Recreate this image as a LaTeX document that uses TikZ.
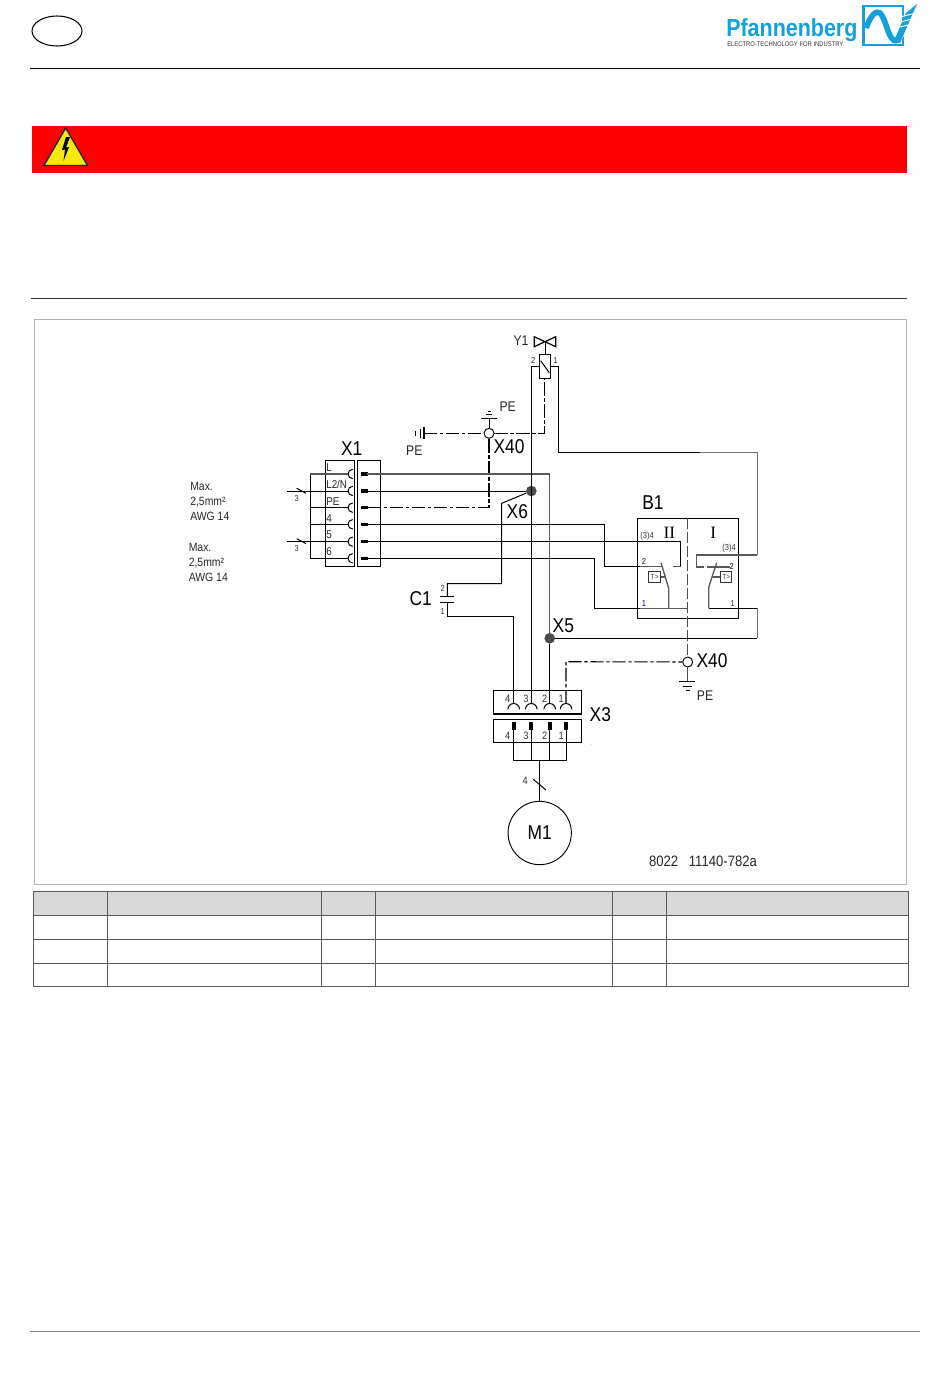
\documentclass[tikz,border=0pt]{standalone}
\usepackage{fontspec}
\setmainfont[FakeStretch=0.87]{Liberation Sans}
\newfontfamily\ziffer{Liberation Serif}
\usetikzlibrary{shapes.geometric}
\definecolor{logoblue}{RGB}{20,160,220}
\definecolor{headgrey}{RGB}{217,217,217}
\tikzset{
	x=0.75pt,y=-0.75pt,
	wire/.style={black,line width=0.75pt},
	greywire/.style={black!65,line width=1pt},
	dashdot/.style={black,line width=0.8pt,dash pattern=on 10pt off 2pt on 2.5pt off 2pt},
	sepline/.style={black!70,line width=1pt,dash pattern=on 8pt off 2.5pt},
	box/.style={draw,black,line width=0.8pt,inner sep=0},
	pinbar/.style={black,line width=2.5pt},
	opendot/.style={circle,draw,fill=white,line width=0.7pt,minimum size=7.5pt,inner sep=0},
	soliddot/.style={circle,fill=black!70,minimum size=8pt,inner sep=0},
	biglabel/.style={inner sep=0,font=\fontsize{15}{15}\selectfont},
	midlabel/.style={inner sep=0,font=\fontsize{10.5}{10.5}\selectfont,black!85},
	termlabel/.style={inner sep=0,anchor=west,font=\fontsize{8.5}{8.5}\selectfont,black!85},
	pinlabel/.style={inner sep=0,font=\fontsize{6.5}{6.5}\selectfont,black!80},
	notelabel/.style={inner sep=0,anchor=west,align=left,font=\fontsize{9}{11.25}\selectfont,black!85},
}
\begin{document}
\begin{tikzpicture}
\useasboundingbox (0,0) rectangle (950,1378);

\node[draw,ellipse,line width=0.8pt,minimum width=37.5pt,minimum height=22.5pt,inner sep=0] (lang) at (57,31) {};
\draw[line width=0.75pt] (30,68.5) -- (920,68.5);
\node[inner sep=0,anchor=west,logoblue,font=\fontsize{18.5}{18.5}\selectfont\bfseries] (logoname) at (726,30) {Pfannenberg};
\node[inner sep=0,anchor=west,black!80,font=\fontsize{5.05}{5.05}\selectfont] (logotag) at (727,44.5) {ELECTRO-TECHNOLOGY FOR INDUSTRY};
\draw[logoblue,line width=2.2pt] (863.5,6) rectangle (903,45);
\draw[logoblue,line width=4.2pt] (866,28) .. controls (871,15) and (876,10) .. (880,13) .. controls (887,20) and (888,42) .. (897,41);
\draw[white,line width=6pt] (898,38) -- (917,5);
\fill[logoblue] (893,43) -- (900,43) -- (917,4) -- (906,13) -- cycle;
\foreach \y in {16,21,26}
	\draw[white,line width=0.7pt] (900,\y+1) -- (916,\y-3);

\fill[red] (32,126) rectangle (907,173);
\draw[black!85,fill=yellow!95!black,line width=1pt,line join=miter] (65.7,128) -- (87.5,165.5) -- (44,165.5) -- cycle;
\fill[black] (66,137) -- (62,150) -- (65,149.5) -- (63.5,161) -- (69,147) -- (66,147.5) -- (70,137) -- cycle;
\draw[black!80,line width=0.8pt] (31,298.5) -- (907,298.5);

\draw[black!30,line width=0.7pt] (34.5,319) rectangle (906,884);

\node[box,minimum width=22pt,minimum height=79.5pt] (xoneL) at (339.7,513.3) {};
\node[box,minimum width=17pt,minimum height=79.5pt] (xoneR) at (369,513.3) {};
\node[biglabel] (xonetxt) at (351.7,448.3) {X1};
\foreach \n/\y in {a/474,b/491,c/507.7,d/524.3,e/541.7,f/558.3} {
	\coordinate (in\n) at (310,\y);
	\coordinate (sock\n) at (348,\y);
	\coordinate (pin\n) at (361,\y);
	\draw[wire] (352.7,\y-4.7) arc[start angle=90,end angle=270,radius=3.5pt];
	\draw[pinbar] (pin\n) -- ++(6.5,0);
}
\node[termlabel] (tl) at (326,468) {L};
\node[termlabel] (tb) at (326,484) {L2/N};
\node[termlabel] (tc) at (326,501.7) {PE};
\node[termlabel] (td) at (326,518.3) {4};
\node[termlabel] (te) at (326,535) {5};
\node[termlabel] (tf) at (326,552) {6};

\draw[wire] (ina) -- (inf);
\foreach \n in {c,d,f}
	\draw[wire] (in\n) -- (sock\n);
\draw[greywire] (ina) -- (socka);
\coordinate (feedb) at (286.7,491);
\coordinate (feede) at (286.7,541.7);
\draw[wire] (feedb) -- (sockb);
\draw[wire] (feede) -- (socke);
\draw[wire] (296.7,488.3) -- (306,493.3);
\draw[wire] (296.7,538.7) -- (306,543.7);
\node[pinlabel] (threeb) at (296.7,498.3) {3};
\node[pinlabel] (threee) at (296.7,548.3) {3};
\node[notelabel] (maxone) at (190,501) {Max.\\2,5mm²\\AWG 14};
\node[notelabel] (maxtwo) at (188.5,562.7) {Max.\\2,5mm²\\AWG 14};

\draw[wire,line width=0.9pt] (534.3,336.7) -- (555.7,346.7) -- (555.7,336.7) -- (534.3,346.7) -- cycle;
\draw[wire] (545,341.7) -- (545,354.3);
\node[box,minimum width=8.5pt,minimum height=18pt] (yone) at (544.7,366.3) {};
\draw[wire] (540.7,360.7) -- (549.3,372.7);
\node[midlabel] (yonetxt) at (521,341) {Y1};
\node[pinlabel] (ytwo) at (533.3,360.7) {2};
\node[pinlabel] (ypone) at (555.7,360.7) {1};

\node[opendot] (xforty) at (489,433.3) {};
\node[opendot] (xfortyb) at (687.7,662) {};
\node[soliddot] (xsix) at (531.3,491) {};
\node[soliddot] (xfive) at (549.7,638.3) {};
\node[biglabel] (xfortytxt) at (509,446.7) {X40};
\node[biglabel] (xsixtxt) at (517.3,511.7) {X6};
\node[biglabel] (xfivetxt) at (563.3,626) {X5};
\node[biglabel] (xfortybtxt) at (712,661) {X40};
\node[midlabel] (petop) at (507.7,406.7) {PE};
\node[midlabel] (peleft) at (414.3,451) {PE};
\node[midlabel] (pelow) at (705,695.7) {PE};

\coordinate (gndtop) at (489,418.3);
\coordinate (gndleft) at (424,433.3);
\coordinate (gndlow) at (687.7,681.7);
\draw[wire] (xforty) -- (gndtop);
\draw[wire,line width=1pt] (481,418.3) -- (497,418.3);
\draw[wire] (486,414) -- (492,414);
\draw[wire] (487.5,411) -- (490.5,411);
\draw[wire,line width=1pt] (424,427) -- (424,439);
\draw[wire] (420,428.5) -- (420,438);
\draw[wire] (415.7,431) -- (415.7,435.5);
\draw[wire,black!70] (xfortyb) -- (gndlow);
\draw[wire,line width=1pt] (679,681.7) -- (695,681.7);
\draw[wire] (683,686.5) -- (692,686.5);
\draw[wire] (686,690.5) -- (689.5,690.5);

\draw[dashdot] (gndleft) -- (xforty);
\draw[dashdot] (xforty) -| (yone);
\draw[dashdot] (pinc) ++(7,0) -- (489,507.7) -- (xforty);

\node[box,minimum width=75.7pt,minimum height=74.8pt] (bone) at (687.7,568.2) {};
\node[biglabel] (bonetxt) at (653,503) {B1};
\node[inner sep=0,font=\fontsize{13}{13}\selectfont\ziffer] (twotxt) at (669.3,533) {II};
\node[inner sep=0,font=\fontsize{13}{13}\selectfont\ziffer] (onetxt) at (713.3,533) {I};
\node[pinlabel] (bthreel) at (647,536) {(3)4};
\node[pinlabel] (bthreer) at (729,548.3) {(3)4};
\node[pinlabel,black!90] (btwol) at (644,561.7) {2};
\node[pinlabel,black!90] (btwor) at (731.7,566.7) {2};
\node[pinlabel,blue!60!black] (bonel) at (644,604) {1};
\node[pinlabel] (boner) at (732.7,604) {1};
\node[box,line width=0.7pt,minimum width=8.8pt,minimum height=8pt,font=\fontsize{5.5}{5.5}\selectfont,black!80] (templ) at (654.8,577) {T>};
\node[box,line width=0.7pt,minimum width=8.3pt,minimum height=8pt,font=\fontsize{5.5}{5.5}\selectfont,black!80] (tempr) at (726.2,577) {T>};
\draw[sepline] (687.7,518.3) -- (xfortyb);

\foreach \n/\x/\t in {4/513.7/507.7,3/531.3/526,2/549.7/544.7,1/566/561.3} {
	\coordinate (up\n) at (\x,703.3);
	\coordinate (low\n) at (\x,730);
	\draw[wire] (\x-5.8,709.3) arc[start angle=180,end angle=0,radius=4.35pt];
	\draw[pinbar,line width=3pt] (\x,722) -- (low\n);
	\node[pinlabel,font=\fontsize{8}{8}\selectfont] (nu\n) at (\t,698.7) {\n};
	\node[pinlabel,font=\fontsize{8}{8}\selectfont] (nl\n) at (\t,736) {\n};
}
\node[box,minimum width=65.8pt,minimum height=17.5pt] (xthreeU) at (537.8,702.3) {};
\node[box,minimum width=65.8pt,minimum height=17.5pt] (xthreeL) at (537.8,730.7) {};
\node[biglabel] (xthreetxt) at (600.3,714.3) {X3};
\node[inner sep=0,font=\fontsize{3}{3}\selectfont] (speck) at (591.7,745) {.};

\node[circle,draw,line width=0.7pt,minimum size=47.5pt,inner sep=0,font=\fontsize{15}{15}\selectfont] (mone) at (539.7,833) {M1};
\coordinate (busm) at (539.7,760.3);
\draw[wire] (low4) |- (busm);
\draw[wire] (low3) -- (531.3,760.3);
\draw[wire] (low2) -- (549.7,760.3);
\draw[wire] (low1) |- (busm);
\draw[wire,line width=1pt] (busm) -- (mone);
\draw[wire] (533.3,779.3) -- (546,790);
\node[pinlabel,font=\fontsize{8}{8}\selectfont] (mcount) at (525.3,780.7) {4};

\draw[greywire] (pina) ++(6,0) -| (xfive);
\draw[wire] (xfive) -- (up2);
\draw[wire] (pinb) -- (xsix);
\draw[wire] (yone.west) -| (up3);
\draw[wire] (xsix) -- (501.7,503.3) -- (501.7,583.7) -- (447.3,583.7) -- (447.3,596.7);
\draw[wire,line width=1pt] (440.3,596.7) -- (454.3,596.7);
\draw[wire,line width=1pt] (440.3,602.3) -- (454.3,602.3);
\draw[wire] (447.3,602.3) -- (447.3,616) -- (513.7,616) -- (up4);
\node[biglabel] (conetxt) at (420.7,598.3) {C1};
\node[pinlabel] (ctwo) at (442.7,588.3) {2};
\node[pinlabel] (cone) at (442.7,611.7) {1};
\draw[dashdot] (up1) -- (566,661.7) -- (xfortyb);

\draw[wire] (pind) -- (604.3,524.3) -- (604.3,566.7) -- (640,566.7);
\draw[greywire] (640,566.7) -- (661.7,566.7);
\draw[wire] (pine) -- (680.7,541.7) -- (680.7,566.7);
\draw[greywire] (680.7,566.7) -- (673,566.7);
\draw[wire] (pinf) -- (594.7,558.3) -- (594.7,608.3) -- (640,608.3);
\draw[greywire] (640,608.3) -- (687.7,608.3);
\draw[greywire] (668.7,608.3) -- (668.7,588.3) -- (661,562.7);
\draw[greywire] (templ) -- (666,577);

\draw[wire] (yone.east) -- (558,366.3) -- (558,452.3) -- (700,452.3);
\draw[black!55,line width=0.75pt] (700,452.3) -- (757,452.3) -- (757,555);
\draw[greywire] (757,555) -- (696.3,555) -- (696.3,567) -- (704,567);
\draw[greywire] (707,567) -- (730,567);
\draw[greywire] (708.7,608.3) -- (708.7,587.3) -- (716.7,562.7);
\draw[greywire] (712.5,577) -- (tempr);
\draw[wire] (708.7,608.3) -- (757,608.3);
\draw[black!55,line width=0.75pt] (757,608.3) -- (757,638.3);
\draw[wire] (xfive) -- (757,638.3);

\node[midlabel,font=\fontsize{11.3}{11.3}\selectfont] (drawno) at (703,861) {8022\hspace{8pt}11140-782a};

\fill[headgrey] (33.5,891) rectangle (908,915);
\foreach \x in {33.5,107.5,321.5,375.5,612.5,666.5,908}
	\draw[black!65,line width=0.7pt] (\x,891) -- (\x,986.5);
\foreach \y in {891,915,939,963,986.5}
	\draw[black!65,line width=0.7pt] (33.5,\y) -- (908,\y);

\draw[black!50,line width=0.8pt] (30,1331.5) -- (920,1331.5);
\end{tikzpicture}
\end{document}
